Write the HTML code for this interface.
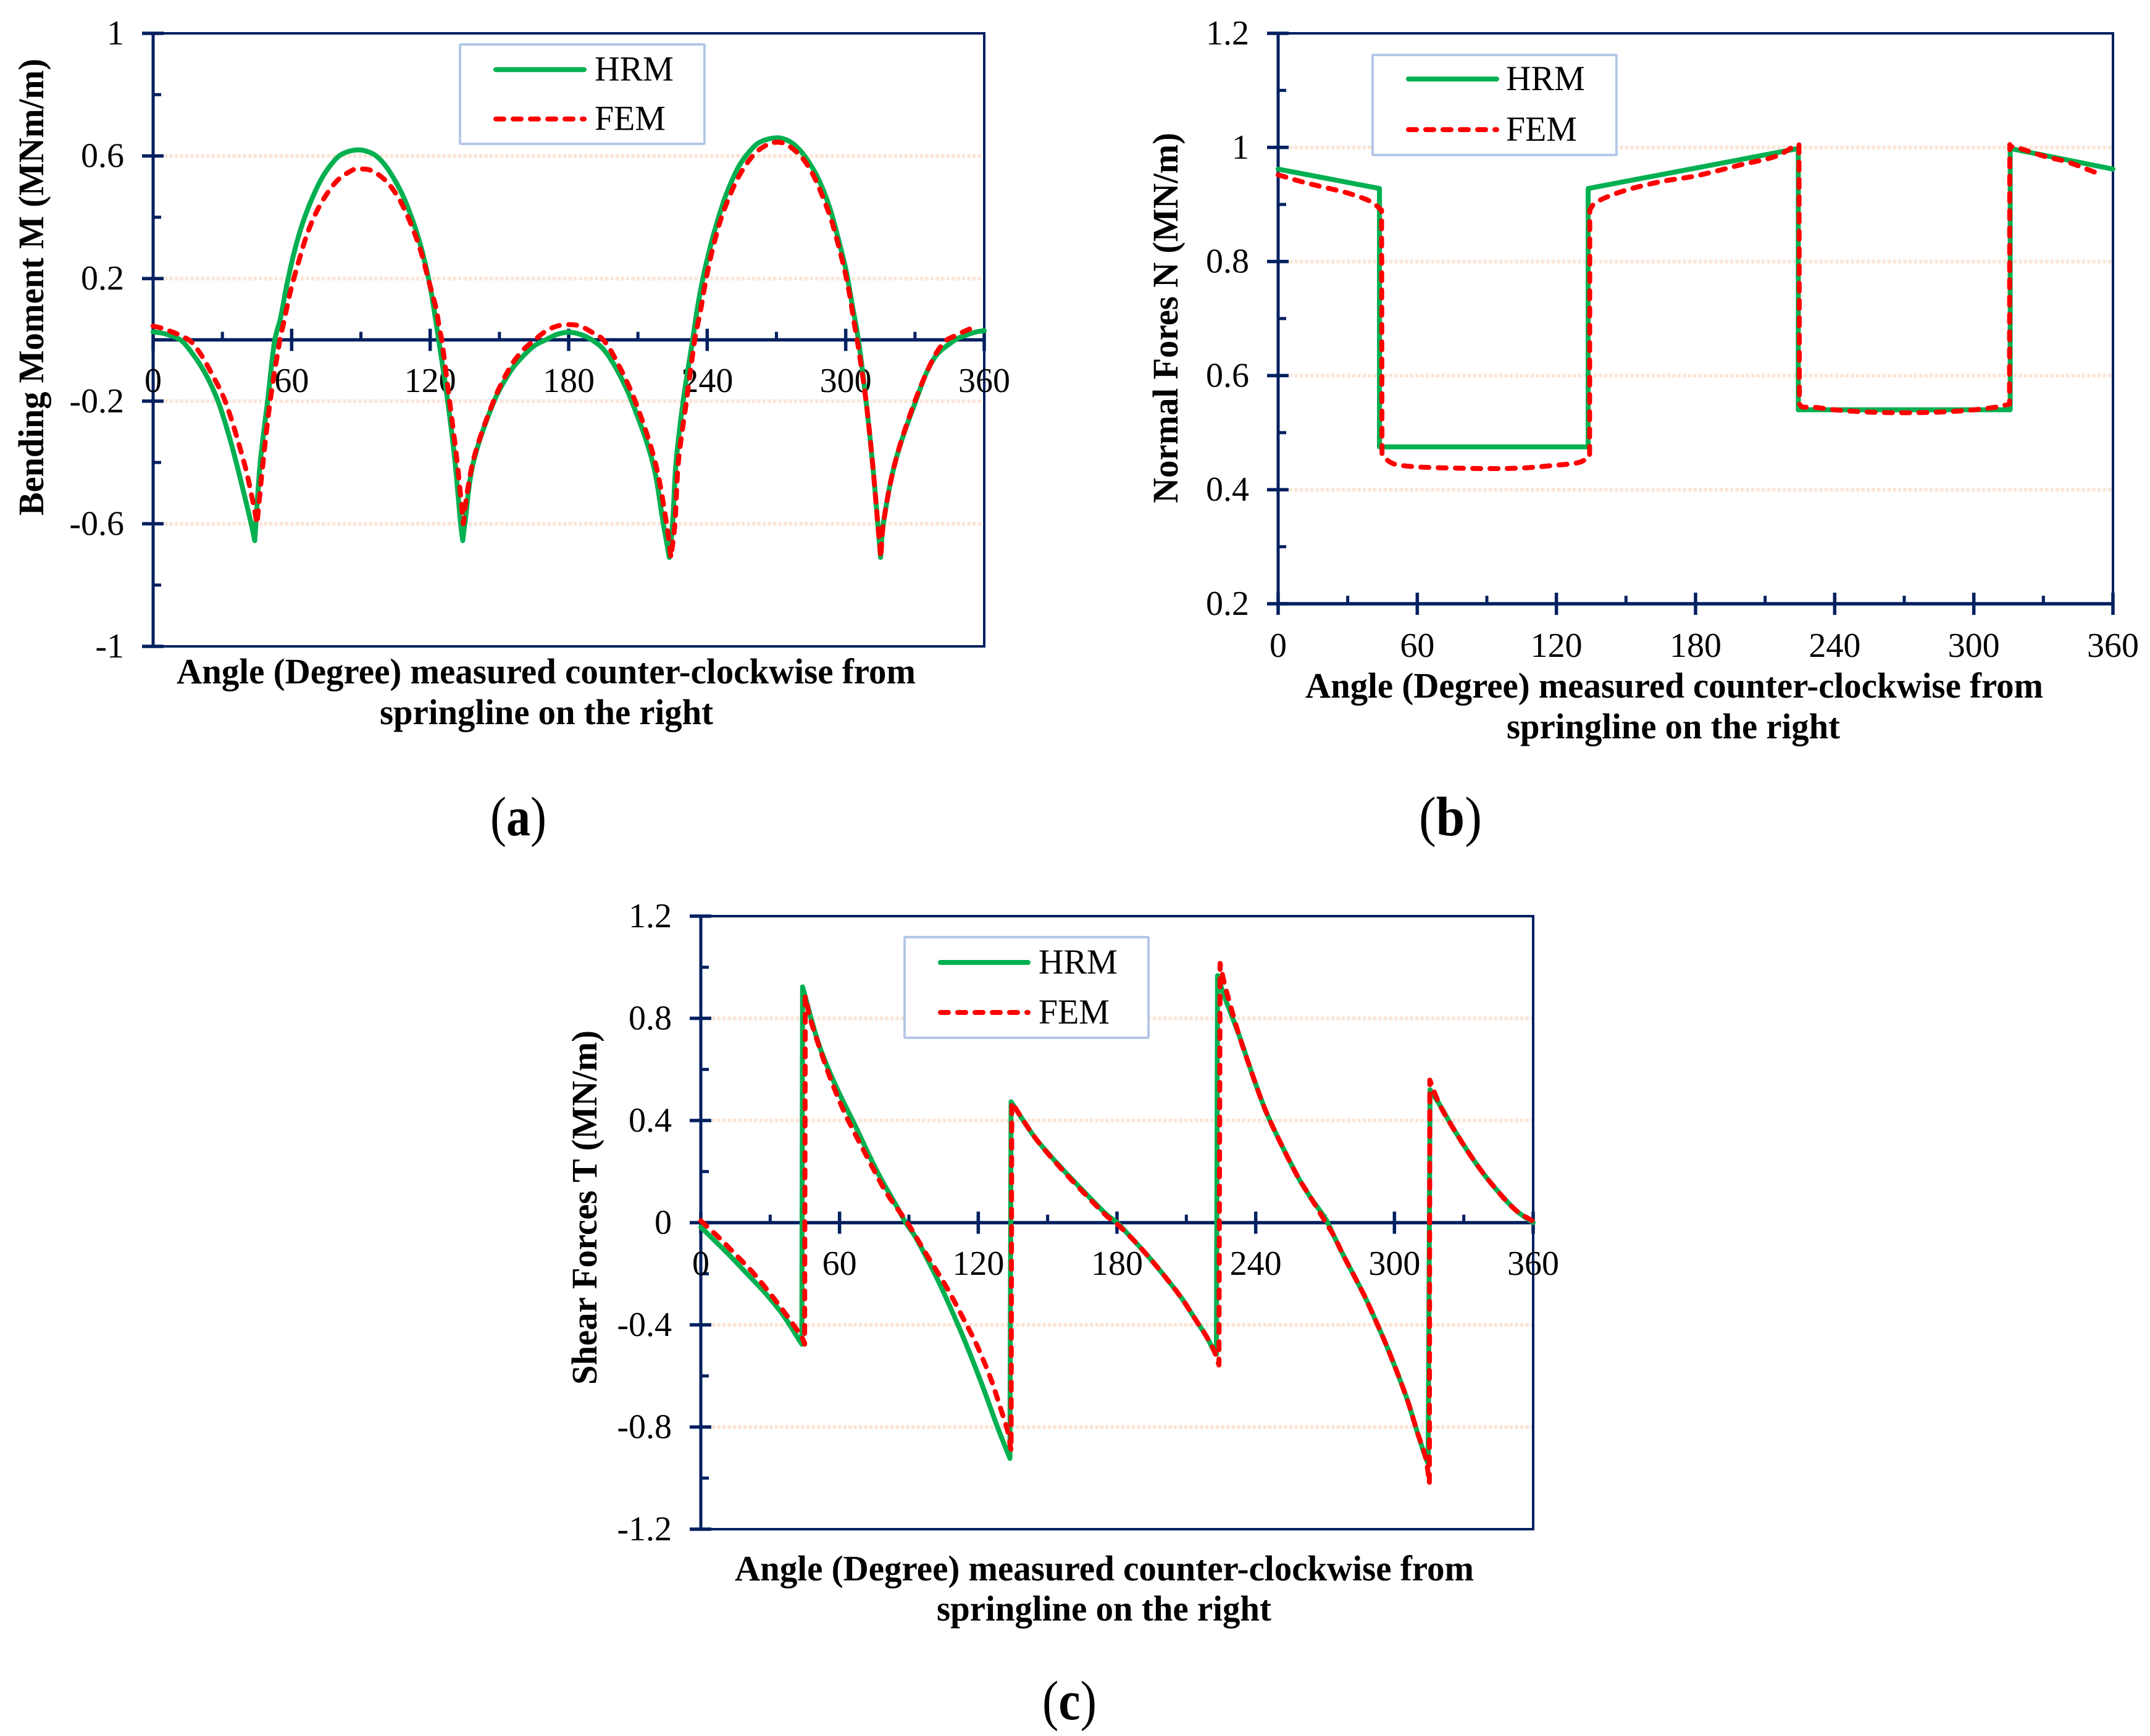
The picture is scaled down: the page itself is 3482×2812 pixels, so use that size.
<!DOCTYPE html>
<html lang="en">
<head>
<meta charset="utf-8">
<title>HRM vs FEM: bending moment, normal force and shear force</title>
<style>
html,body{margin:0;padding:0;background:#fff;width:3482px;height:2812px;overflow:hidden}
svg{display:block}
text{font-family:"Liberation Serif",serif;fill:#000}
.tick{font-size:56px}
.title{font-size:58px;font-weight:bold}
.legend-text{font-size:57px}
.caption{font-size:90px}
</style>
</head>
<body>
<svg id="figure" xmlns="http://www.w3.org/2000/svg" width="3482" height="2812" viewBox="0 0 3482 2812">
  <rect width="3482" height="2812" fill="#fff"/>
  <g id="panel-a"></g>
  <g id="panel-b"></g>
  <g id="panel-c"></g>

  <text class="title" x="286" y="1107" textLength="1197" lengthAdjust="spacingAndGlyphs">Angle (Degree) measured counter-clockwise from</text>
  <text class="title" x="615" y="1173" textLength="540" lengthAdjust="spacingAndGlyphs">springline on the right</text>
  <text class="title" transform="translate(70,465) rotate(-90)" text-anchor="middle" textLength="740" lengthAdjust="spacingAndGlyphs">Bending Moment M (MNm/m)</text>
  <text class="caption" x="794" y="1353" textLength="91" lengthAdjust="spacingAndGlyphs">(<tspan font-weight="bold">a</tspan>)</text>

  <text class="title" x="2114" y="1130" textLength="1195" lengthAdjust="spacingAndGlyphs">Angle (Degree) measured counter-clockwise from</text>
  <text class="title" x="2440" y="1196" textLength="540" lengthAdjust="spacingAndGlyphs">springline on the right</text>
  <text class="title" transform="translate(1907,515) rotate(-90)" text-anchor="middle" textLength="600" lengthAdjust="spacingAndGlyphs">Normal Fores N (MN/m)</text>
  <text class="caption" x="2298" y="1353" textLength="102" lengthAdjust="spacingAndGlyphs">(<tspan font-weight="bold">b</tspan>)</text>

  <text class="title" x="1190" y="2560" textLength="1197" lengthAdjust="spacingAndGlyphs">Angle (Degree) measured counter-clockwise from</text>
  <text class="title" x="1517" y="2625" textLength="542" lengthAdjust="spacingAndGlyphs">springline on the right</text>
  <text class="title" transform="translate(966,1956) rotate(-90)" text-anchor="middle" textLength="574" lengthAdjust="spacingAndGlyphs">Shear Forces T (MN/m)</text>
  <text class="caption" x="1688" y="2785" textLength="88" lengthAdjust="spacingAndGlyphs">(<tspan font-weight="bold">c</tspan>)</text>
</svg>

<script>
// ---- Shared axis data ----
const xTickValues = [0, 60, 120, 180, 240, 300, 360];
const xMinorValues = [30, 90, 150, 210, 270, 330];

// ---- Panel (a): bending moment ----
const aYTicks = [1, 0.6, 0.2, -0.2, -0.6, -1];
const aYMinor = [0.8, 0.4, -0.4, -0.8];
const aGrid = [0.6, 0.2, -0.2, -0.6];
const aHrmCusps = [44, 134.1, 223.6, 315.1];
const aFemCusps = [45, 134.4, 224.3, 315.2];
const aHrmAngles = [0,5,11.8,15,20,24,28.1,32,36,42.5,44,46.4,49.6,52.7,55.1,57.8,60.9,64.5,68.5,72.9,77.4,81.8,88.8,95.2,99.6,104,108.5,113,116.5,120.1,122.3,123.7,127.6,130.8,133.2,134.1,135,138.7,147.7,155,160,165,170,175,180,185,190,195,201.1,207.3,216.4,221,223.6,225,226.5,229.6,233.7,235.7,238,240.2,242.8,245.1,247.7,250.4,254,258.4,262.8,270,275.3,279.8,284.2,288.6,293.1,296.6,300.2,302.8,305.5,308.8,311.6,313.9,315.1,316.3,321.4,330.3,338.3,347.4,352,356,360];
const aHrmValues = [0.026,0.02,0,-0.025,-0.077,-0.13,-0.2,-0.29,-0.4,-0.6,-0.655,-0.4,-0.2,0,0.068,0.175,0.28,0.375,0.455,0.525,0.575,0.606,0.62,0.607,0.578,0.53,0.465,0.377,0.29,0.17,0.068,0,-0.2,-0.4,-0.6,-0.655,-0.6,-0.4,-0.2,-0.1,-0.055,-0.02,0,0.018,0.025,0.018,0,-0.03,-0.1,-0.2,-0.4,-0.6,-0.71,-0.6,-0.4,-0.2,0,0.101,0.195,0.269,0.345,0.404,0.464,0.514,0.57,0.615,0.645,0.659,0.649,0.622,0.578,0.518,0.43,0.335,0.225,0.115,0,-0.2,-0.4,-0.6,-0.71,-0.6,-0.4,-0.2,-0.06,0,0.015,0.025,0.03];
const aFemAngles = [0,5,15.4,20,25,31.2,39.4,43,45,47.6,50.7,54.9,56.4,58,59.6,61.3,63.6,65.8,68.5,71.6,75.6,80.5,87.2,89,94.3,100.5,105.4,109,112.1,114.8,117,118.8,121,122.8,123.9,125,128.4,131.7,134.4,136,139.5,148,155,160,165,170,175,180,185,190,195,201,208.8,217.5,222.4,224.3,226,227.5,231,234.6,235.7,237.1,238.8,241.1,243.7,246.4,250,253.5,258.4,262.8,268.9,274.2,281,285.9,289.5,293.5,296.6,299.7,301.5,303.7,305.3,308.8,311.6,313.9,315.2,316.3,321.4,330,338,343,347,352,356];
const aFemValues = [0.045,0.035,0,-0.04,-0.105,-0.2,-0.4,-0.52,-0.6,-0.4,-0.2,0,0.051,0.108,0.162,0.21,0.27,0.325,0.38,0.43,0.48,0.525,0.557,0.558,0.553,0.521,0.474,0.424,0.37,0.316,0.262,0.209,0.148,0.095,0.041,0,-0.2,-0.4,-0.6,-0.5,-0.37,-0.19,-0.085,-0.035,-0.002,0.028,0.045,0.05,0.045,0.025,0,-0.073,-0.2,-0.4,-0.6,-0.71,-0.6,-0.4,-0.2,0,0.044,0.095,0.169,0.256,0.336,0.405,0.474,0.531,0.588,0.622,0.644,0.638,0.595,0.538,0.477,0.397,0.315,0.222,0.155,0.054,-0.016,-0.2,-0.4,-0.6,-0.71,-0.6,-0.4,-0.2,-0.06,-0.005,0.012,0.03,0.042];

// ---- Panel (b): normal force ----
const bYTicks = [1.2, 1, 0.8, 0.6, 0.4, 0.2];
const bYMinor = [1.1, 0.9, 0.7, 0.5, 0.3];
const bGrid = [1, 0.8, 0.6, 0.4];
const bHrmCusps = [43.7, 133.7, 224.3, 315.7];
const bFemCusps = [44.6, 44.8, 134.3, 134.4, 224.6, 224.8, 315.4, 315.5];
const bHrmAngles = [0,43.7,43.7,133.7,133.7,224.3,224.3,315.7,315.7,360];
const bHrmValues = [0.962,0.928,0.475,0.475,0.928,0.998,0.54,0.54,0.998,0.962];
const bFemAngles = [0,10,20,30,40,44.6,44.8,46,50,60,75,90,105,120,130,134.3,134.4,136,140,150,165,180,200,215,223,224.6,224.8,226,230,240,255,270,285,300,310,315.4,315.5,316,320,330,340,350,355];
const bFemValues = [0.952,0.94,0.93,0.92,0.905,0.89,0.46,0.455,0.445,0.44,0.438,0.437,0.438,0.443,0.448,0.458,0.89,0.9,0.91,0.925,0.94,0.95,0.97,0.985,1.003,1.005,0.55,0.545,0.545,0.54,0.536,0.535,0.536,0.54,0.545,0.55,1.005,1.002,0.998,0.985,0.975,0.96,0.952];

// ---- Panel (c): shear force ----
const cYTicks = [1.2, 0.8, 0.4, 0, -0.4, -0.8, -1.2];
const cYMinor = [1, 0.6, 0.2, -0.2, -0.6, -1];
const cGrid = [0.8, 0.4, -0.4, -0.8];
const cHrmCusps = [];
const cFemCusps = [];
const cHrmAngles = [0,12.2,19.4,28.6,35.7,43.7,44,50.8,57.9,67,76.3,85.7,88.6,92.9,103,113.3,121.4,128.6,133.7,134.2,144.8,156,166.2,175.7,180,187.2,194.1,201,207.9,214,218.6,222.1,223,223.5,226.5,232.7,237.8,243.9,250,258.2,264,270.4,273.7,278.3,282.9,287.5,292.1,296.7,301.3,305.9,309.7,313.5,314.6,315.4,319.5,325.6,333.9,342,352.3,360];
const cHrmValues = [-0.017,-0.126,-0.194,-0.283,-0.363,-0.476,0.923,0.705,0.545,0.375,0.2,0.048,0,-0.057,-0.234,-0.444,-0.629,-0.807,-0.923,0.473,0.33,0.214,0.117,0.03,0,-0.069,-0.138,-0.214,-0.295,-0.38,-0.444,-0.504,-0.515,0.967,0.885,0.737,0.6,0.447,0.326,0.18,0.095,0.012,-0.05,-0.135,-0.214,-0.295,-0.388,-0.484,-0.589,-0.702,-0.815,-0.92,-0.944,0.52,0.463,0.367,0.25,0.152,0.05,0];
const cFemAngles = [0,7.7,14.3,22.4,30.6,37.8,43.9,44.9,45.2,47.3,51.8,56.9,63,72.1,80.3,89.6,96.9,106.1,113.3,119.4,125.5,129.6,132.7,134.2,134.5,144.8,156,166.2,175.7,180,187.2,194.1,201,207.9,214,218.6,222.1,224.1,224.6,226.5,232.7,237.8,243.9,250,258.2,264,270,273.7,278.3,282.9,287.5,292.1,296.7,301.3,305.9,309.7,313.5,315.1,315.3,319.5,325.6,333.9,342,352.3,360];
const cFemValues = [0.007,-0.057,-0.118,-0.194,-0.285,-0.371,-0.452,-0.476,0.886,0.8,0.673,0.544,0.415,0.254,0.117,-0.004,-0.114,-0.25,-0.371,-0.48,-0.613,-0.726,-0.815,-0.891,0.47,0.33,0.21,0.112,0.025,-0.005,-0.069,-0.138,-0.214,-0.295,-0.38,-0.444,-0.504,-0.557,1.015,0.935,0.737,0.6,0.447,0.326,0.18,0.095,0.005,-0.05,-0.135,-0.214,-0.295,-0.388,-0.484,-0.589,-0.702,-0.815,-0.92,-1.02,0.558,0.463,0.367,0.25,0.152,0.05,0.005];

const NAVY = '#002060', GREEN = '#00b050', RED = '#ff0000';
const NS = 'http://www.w3.org/2000/svg';

function mk(parent, tag, attrs, text) {
  const el = document.createElementNS(NS, tag);
  for (const k in attrs) el.setAttribute(k, attrs[k]);
  if (text !== undefined) el.textContent = text;
  parent.appendChild(el);
  return el;
}

// Build a smooth path through the series, straight across jumps, sharp at cusps.
function seriesPath(angles, values, cusps, xs, ys) {
  const px = angles.map(xs), py = values.map(ys);
  const n = angles.length;
  const runs = [];
  let run = [0];
  let joins = [];
  for (let i = 0; i < n - 1; i++) {
    const isJump = Math.abs(angles[i + 1] - angles[i]) < 1 && Math.abs(values[i + 1] - values[i]) > 0.2;
    if (isJump) {
      runs.push(run);
      joins.push('L');
      run = [i + 1];
    } else {
      run.push(i + 1);
      if (cusps.includes(angles[i + 1]) && i + 1 < n - 1) {
        const nextJump = Math.abs(angles[i + 2] - angles[i + 1]) < 1 && Math.abs(values[i + 2] - values[i + 1]) > 0.2;
        if (!nextJump) {
          runs.push(run);
          joins.push('C');
          run = [i + 1];
        }
      }
    }
  }
  runs.push(run);
  let d = 'M' + px[0].toFixed(1) + ' ' + py[0].toFixed(1);
  runs.forEach((r, ri) => {
    if (ri > 0 && joins[ri - 1] === 'L') d += 'L' + px[r[0]].toFixed(1) + ' ' + py[r[0]].toFixed(1);
    const tan = k => {
      const a = r[Math.max(0, k - 1)], b = r[Math.min(r.length - 1, k + 1)];
      const dx = px[b] - px[a], dy = py[b] - py[a], len = Math.hypot(dx, dy) || 1;
      return [dx / len, dy / len];
    };
    for (let k = 0; k < r.length - 1; k++) {
      const i = r[k], j = r[k + 1];
      const seg = Math.hypot(px[j] - px[i], py[j] - py[i]) / 3;
      const t0 = tan(k), t1 = tan(k + 1);
      d += 'C' + (px[i] + t0[0] * seg).toFixed(1) + ' ' + (py[i] + t0[1] * seg).toFixed(1) + ' ' +
           (px[j] - t1[0] * seg).toFixed(1) + ' ' + (py[j] - t1[1] * seg).toFixed(1) + ' ' +
           px[j].toFixed(1) + ' ' + py[j].toFixed(1);
    }
  });
  return d;
}

function drawPanel(p) {
  const g = document.getElementById(p.id);
  const L = p.left, R = p.right, T = p.top, B = p.bottom;
  const xs = v => L + (v / 360) * (R - L);
  const ys = v => T + ((p.yMax - v) / (p.yMax - p.yMin)) * (B - T);
  const axisY = ys(p.xAxisAt);

  // gridlines
  p.grid.forEach(v => {
    const gl = mk(g, 'line', {x1: L + 18, x2: R, y1: ys(v), y2: ys(v), stroke: '#fbe5d6', 'stroke-width': 6, 'stroke-dasharray': '5.3 3.2'});
    
    
  });

  // plot border
  const frame = mk(g, 'rect', {x: L, y: T, width: R - L, height: B - T, fill: 'none', stroke: NAVY, 'stroke-width': 4});
  
  

  // axes
  const yAxis = mk(g, 'line', {x1: L, x2: L, y1: T - 2, y2: B + 2, stroke: NAVY, 'stroke-width': 5});
  
  
  const xAxis = mk(g, 'line', {x1: L, x2: R + 2, y1: axisY, y2: axisY, stroke: NAVY, 'stroke-width': 5.5});
  
  

  // y ticks and labels
  p.yTicks.forEach(v => {
    const t = mk(g, 'line', {x1: L - 18, x2: L + 17, y1: ys(v), y2: ys(v), stroke: NAVY, 'stroke-width': 5.5});
    
    
    const lb = mk(g, 'text', {class: 'tick', x: L - 47, y: ys(v) + 18, 'text-anchor': 'end'}, String(v));
    
    
  });
  p.yMinor.forEach(v => {
    const t = mk(g, 'line', {x1: L, x2: L + 13, y1: ys(v), y2: ys(v), stroke: NAVY, 'stroke-width': 5});
    
    
  });

  // x ticks and labels
  xTickValues.forEach(v => {
    const t = mk(g, 'line', {x1: xs(v), x2: xs(v), y1: axisY - 18, y2: axisY + 18, stroke: NAVY, 'stroke-width': 5.5});
    
    
    const lb = mk(g, 'text', {class: 'tick', x: xs(v), y: p.xLabelY, 'text-anchor': 'middle'}, String(v));
    
    
  });
  xMinorValues.forEach(v => {
    const t = mk(g, 'line', {x1: xs(v), x2: xs(v), y1: axisY - 13, y2: axisY, stroke: NAVY, 'stroke-width': 5});
    
    
  });

  // series
  const hrm = mk(g, 'path', {d: seriesPath(p.hrmX, p.hrmY, p.hrmCusps, xs, ys), fill: 'none', stroke: GREEN, 'stroke-width': 8, 'stroke-linejoin': 'round', 'stroke-linecap': 'round'});
  
  
  const fem = mk(g, 'path', {d: seriesPath(p.femX, p.femY, p.femCusps, xs, ys), fill: 'none', stroke: RED, 'stroke-width': 8, 'stroke-linejoin': 'round', 'stroke-linecap': 'round', 'stroke-dasharray': '13 15'});
  
  

  // legend
  const lg = p.legend;
  const box = mk(g, 'rect', {x: lg.x, y: lg.y, width: lg.w, height: lg.h, fill: '#fff', stroke: '#b4c7e7', 'stroke-width': 4, rx: 1});
  
  
  const l1 = mk(g, 'line', {x1: lg.lineX1, x2: lg.lineX2, y1: lg.y1, y2: lg.y1, stroke: GREEN, 'stroke-width': 8, 'stroke-linecap': 'round'});
  
  
  const t1 = mk(g, 'text', {class: 'legend-text', x: lg.textX, y: lg.y1 + 18, textLength: 128, lengthAdjust: 'spacingAndGlyphs'}, 'HRM');
  
  
  const l2 = mk(g, 'line', {x1: lg.lineX1, x2: lg.lineX2, y1: lg.y2, y2: lg.y2, stroke: RED, 'stroke-width': 8, 'stroke-linecap': 'round', 'stroke-dasharray': '13 15'});
  
  
  const t2 = mk(g, 'text', {class: 'legend-text', x: lg.textX, y: lg.y2 + 18, textLength: 115, lengthAdjust: 'spacingAndGlyphs'}, 'FEM');
  
  
}

drawPanel({id: 'panel-a', left: 248, right: 1594, top: 54, bottom: 1047, yMax: 1, yMin: -1, xAxisAt: 0, xLabelY: 635,
  yTicks: aYTicks, yMinor: aYMinor, grid: aGrid, hrmX: aHrmAngles, hrmY: aHrmValues, femX: aFemAngles, femY: aFemValues, hrmCusps: aHrmCusps, femCusps: aFemCusps,
  legend: {x: 745, y: 72, w: 396, h: 161, lineX1: 803, lineX2: 946, y1: 112.7, y2: 192.7, textX: 963}});
drawPanel({id: 'panel-b', left: 2070, right: 3422, top: 54, bottom: 978, yMax: 1.2, yMin: 0.2, xAxisAt: 0.2, xLabelY: 1064,
  yTicks: bYTicks, yMinor: bYMinor, grid: bGrid, hrmX: bHrmAngles, hrmY: bHrmValues, femX: bFemAngles, femY: bFemValues, hrmCusps: bHrmCusps, femCusps: bFemCusps,
  legend: {x: 2223, y: 89, w: 395, h: 162, lineX1: 2281, lineX2: 2424, y1: 128, y2: 210, textX: 2439}});
drawPanel({id: 'panel-c', left: 1135, right: 2483, top: 1484, bottom: 2477, yMax: 1.2, yMin: -1.2, xAxisAt: 0, xLabelY: 2065,
  yTicks: cYTicks, yMinor: cYMinor, grid: cGrid, hrmX: cHrmAngles, hrmY: cHrmValues, femX: cFemAngles, femY: cFemValues, hrmCusps: cHrmCusps, femCusps: cFemCusps,
  legend: {x: 1465, y: 1518, w: 395, h: 163, lineX1: 1523, lineX2: 1665, y1: 1559, y2: 1640, textX: 1682}});
</script>
</body>
</html>
